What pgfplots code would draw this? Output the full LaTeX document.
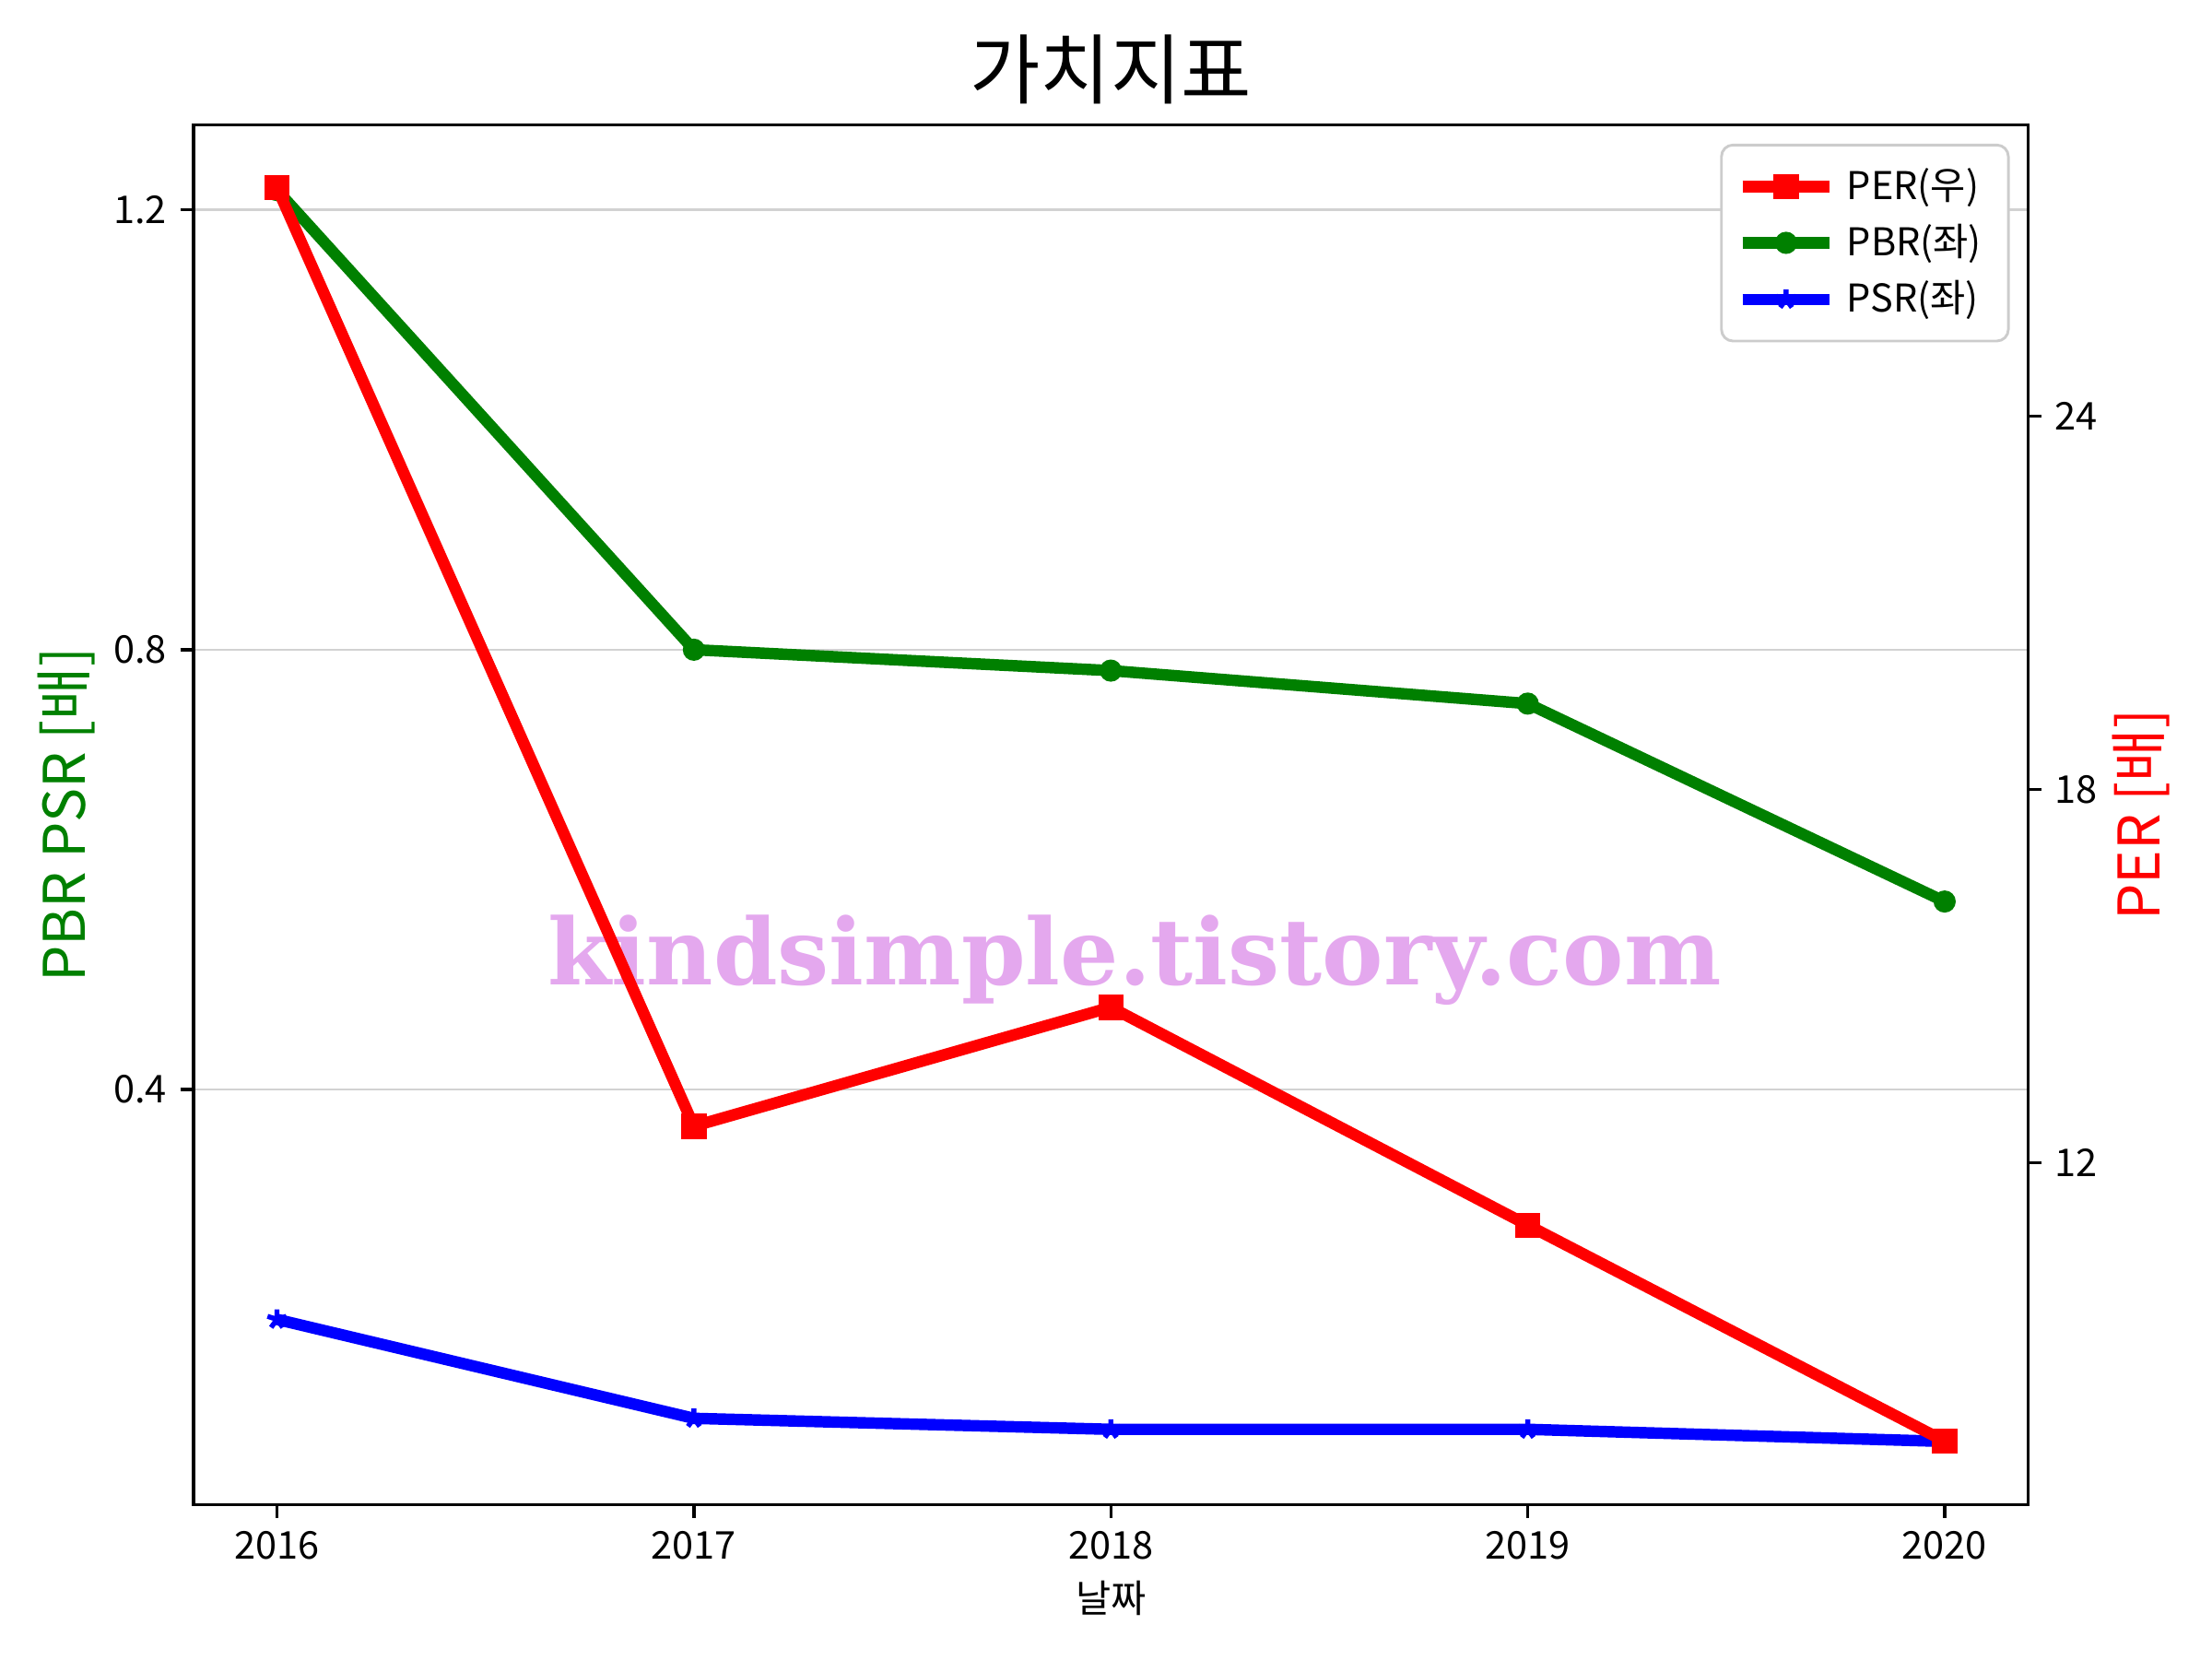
\documentclass[border=0pt]{standalone}
\usepackage{pgfplots}
\pgfplotsset{compat=1.18}
\usepackage{fontspec}
\setmainfont{Noto Sans CJK KR}
\newfontfamily\wmfont{DejaVu Serif}
\definecolor{mred}{RGB}{255,0,0}
\definecolor{mgreen}{RGB}{0,128,0}
\definecolor{mblue}{RGB}{0,0,255}
\definecolor{wm}{RGB}{228,168,238}
\definecolor{gridc}{RGB}{210,210,210}
\definecolor{legc}{RGB}{204,204,204}

\pgfplotsset{
  twin/.style={
    scale only axis, width=16.85cm, height=12.67cm,
    xmin=2015.8, xmax=2020.2,
    tick align=outside, major tick length=3.5pt,
    tick style={black, line width=0.8pt},
    axis line style={line width=0.8pt},
    ticklabel style={font=\fontsize{10}{12}\selectfont},
    label style={font=\fontsize{15}{18}\selectfont},
  },
  legend image code/.code={
    \draw[mark repeat=2, mark phase=2]
      plot coordinates {(0cm,0cm) (0.4cm,0cm) (0.8cm,0cm)};
  },
  pbr/.style={mgreen, line width=3pt, mark=*, mark size=2.6pt, mark options={solid, line width=0.6pt}},
  psr/.style={mblue, line width=3pt, mark=star, mark size=2.6pt, mark options={solid, line width=1.3pt}},
  per/.style={mred, line width=3pt, mark=square*, mark size=3pt, mark options={solid, line width=0.6pt}},
}

\begin{document}
\begin{tikzpicture}
\useasboundingbox (-1.778,-1.422) rectangle (18.54,13.82);

% left axis: PBR, PSR
\begin{axis}[twin,
  ymin=0.0225, ymax=1.277,
  xtick={2016,2017,2018,2019,2020},
  xticklabels={2016,2017,2018,2019,2020},
  ytick={0.4,0.8,1.2}, yticklabels={0.4,0.8,1.2},
  xtick pos=bottom, ytick pos=left,
  ymajorgrids, grid style={gridc, line width=0.6pt},
  title={가치지표},
  title style={font=\fontsize{20}{24}\selectfont,
    at={(axis description cs:0.5,1.024)}, anchor=center},
  xlabel={날짜},
  xlabel style={font=\fontsize{10}{12}\selectfont,
    at={(axis description cs:0.5,-0.068)}, anchor=center},
  ylabel={PBR PSR [배]},
  ylabel style={text=mgreen, at={(axis description cs:-0.0693,0.5)}, anchor=center},
]
\addplot[pbr]
  coordinates {(2016,1.218)(2017,0.800)(2018,0.781)(2019,0.751)(2020,0.571)};
\addplot[psr]
  coordinates {(2016,0.191)(2017,0.101)(2018,0.091)(2019,0.091)(2020,0.080)};
\node[font=\wmfont\bfseries\fontsize{24}{28}\selectfont, text=wm]
  at (rel axis cs:0.513,0.395) {kindsimple.tistory.com};
\end{axis}

% right axis: PER
\begin{axis}[twin,
  ymin=6.51, ymax=28.67,
  axis x line=none, axis y line*=right,
  ytick={12,18,24}, yticklabels={12,18,24},
  ylabel={PER [배]},
  ylabel style={text=mred, at={(axis description cs:1.0618,0.5)}, anchor=center},
  legend cell align=left,
  legend style={at={(rel axis cs:0.99,0.9866)}, anchor=north east,
    draw=legc, line width=0.7pt, rounded corners=3pt, fill=white,
    font=\fontsize{10}{12}\selectfont, row sep=1pt, inner xsep=4pt, inner ysep=4pt,
    nodes={inner xsep=3pt}},
]
\addplot[per]
  coordinates {(2016,27.67)(2017,12.59)(2018,14.50)(2019,11.00)(2020,7.53)};
\addlegendentry{PER(우)}
\addlegendimage{pbr}
\addlegendentry{PBR(좌)}
\addlegendimage{psr}
\addlegendentry{PSR(좌)}
\end{axis}
\end{tikzpicture}
\end{document}
